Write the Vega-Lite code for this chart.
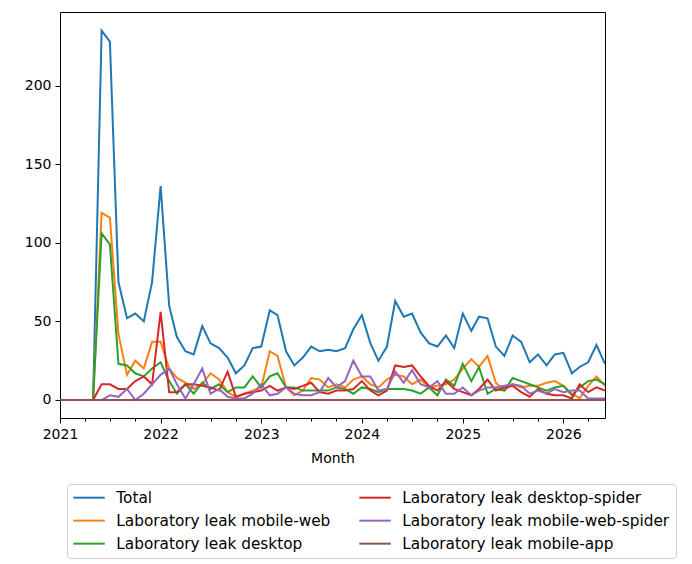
{
  "$schema": "https://vega.github.io/schema/vega-lite/v6.json",
  "description": "Monthly counts, Laboratory leak by platform",
  "width": 545,
  "height": 406,
  "autosize": "none",
  "padding": {"left": 60, "top": 12, "right": 87, "bottom": 146},
  "background": "white",
  "data": {
    "values": [
      {"Month": "2021-01-01", "Total": 0, "Laboratory leak mobile-web": 0, "Laboratory leak desktop": 0, "Laboratory leak desktop-spider": 0, "Laboratory leak mobile-web-spider": 0, "Laboratory leak mobile-app": 0},
      {"Month": "2021-02-01", "Total": 0, "Laboratory leak mobile-web": 0, "Laboratory leak desktop": 0, "Laboratory leak desktop-spider": 0, "Laboratory leak mobile-web-spider": 0, "Laboratory leak mobile-app": 0},
      {"Month": "2021-03-01", "Total": 0, "Laboratory leak mobile-web": 0, "Laboratory leak desktop": 0, "Laboratory leak desktop-spider": 0, "Laboratory leak mobile-web-spider": 0, "Laboratory leak mobile-app": 0},
      {"Month": "2021-04-01", "Total": 0, "Laboratory leak mobile-web": 0, "Laboratory leak desktop": 0, "Laboratory leak desktop-spider": 0, "Laboratory leak mobile-web-spider": 0, "Laboratory leak mobile-app": 0},
      {"Month": "2021-05-01", "Total": 0, "Laboratory leak mobile-web": 0, "Laboratory leak desktop": 0, "Laboratory leak desktop-spider": 0, "Laboratory leak mobile-web-spider": 0, "Laboratory leak mobile-app": 0},
      {"Month": "2021-06-01", "Total": 235, "Laboratory leak mobile-web": 119, "Laboratory leak desktop": 106, "Laboratory leak desktop-spider": 10, "Laboratory leak mobile-web-spider": 0, "Laboratory leak mobile-app": 0},
      {"Month": "2021-07-01", "Total": 228, "Laboratory leak mobile-web": 116, "Laboratory leak desktop": 99, "Laboratory leak desktop-spider": 10, "Laboratory leak mobile-web-spider": 3, "Laboratory leak mobile-app": 0},
      {"Month": "2021-08-01", "Total": 75, "Laboratory leak mobile-web": 42, "Laboratory leak desktop": 23, "Laboratory leak desktop-spider": 7, "Laboratory leak mobile-web-spider": 2, "Laboratory leak mobile-app": 0},
      {"Month": "2021-09-01", "Total": 52, "Laboratory leak mobile-web": 16, "Laboratory leak desktop": 22, "Laboratory leak desktop-spider": 7, "Laboratory leak mobile-web-spider": 7, "Laboratory leak mobile-app": 0},
      {"Month": "2021-10-01", "Total": 55, "Laboratory leak mobile-web": 25, "Laboratory leak desktop": 17, "Laboratory leak desktop-spider": 12, "Laboratory leak mobile-web-spider": 0, "Laboratory leak mobile-app": 0},
      {"Month": "2021-11-01", "Total": 50, "Laboratory leak mobile-web": 20, "Laboratory leak desktop": 15, "Laboratory leak desktop-spider": 15, "Laboratory leak mobile-web-spider": 4, "Laboratory leak mobile-app": 0},
      {"Month": "2021-12-01", "Total": 75, "Laboratory leak mobile-web": 37, "Laboratory leak desktop": 20, "Laboratory leak desktop-spider": 10, "Laboratory leak mobile-web-spider": 10, "Laboratory leak mobile-app": 0},
      {"Month": "2022-01-01", "Total": 136, "Laboratory leak mobile-web": 37, "Laboratory leak desktop": 24, "Laboratory leak desktop-spider": 56, "Laboratory leak mobile-web-spider": 16, "Laboratory leak mobile-app": 0},
      {"Month": "2022-02-01", "Total": 60, "Laboratory leak mobile-web": 20, "Laboratory leak desktop": 12, "Laboratory leak desktop-spider": 5, "Laboratory leak mobile-web-spider": 20, "Laboratory leak mobile-app": 0},
      {"Month": "2022-03-01", "Total": 40, "Laboratory leak mobile-web": 14, "Laboratory leak desktop": 4, "Laboratory leak desktop-spider": 5, "Laboratory leak mobile-web-spider": 10, "Laboratory leak mobile-app": 0},
      {"Month": "2022-04-01", "Total": 31, "Laboratory leak mobile-web": 11, "Laboratory leak desktop": 10, "Laboratory leak desktop-spider": 10, "Laboratory leak mobile-web-spider": 1, "Laboratory leak mobile-app": 0},
      {"Month": "2022-05-01", "Total": 29, "Laboratory leak mobile-web": 7, "Laboratory leak desktop": 4, "Laboratory leak desktop-spider": 10, "Laboratory leak mobile-web-spider": 10, "Laboratory leak mobile-app": 0},
      {"Month": "2022-06-01", "Total": 47, "Laboratory leak mobile-web": 10, "Laboratory leak desktop": 11, "Laboratory leak desktop-spider": 9, "Laboratory leak mobile-web-spider": 20, "Laboratory leak mobile-app": 0},
      {"Month": "2022-07-01", "Total": 36, "Laboratory leak mobile-web": 17, "Laboratory leak desktop": 7, "Laboratory leak desktop-spider": 8, "Laboratory leak mobile-web-spider": 4, "Laboratory leak mobile-app": 0},
      {"Month": "2022-08-01", "Total": 33, "Laboratory leak mobile-web": 13, "Laboratory leak desktop": 10, "Laboratory leak desktop-spider": 6, "Laboratory leak mobile-web-spider": 7, "Laboratory leak mobile-app": 0},
      {"Month": "2022-09-01", "Total": 27, "Laboratory leak mobile-web": 5, "Laboratory leak desktop": 5, "Laboratory leak desktop-spider": 18, "Laboratory leak mobile-web-spider": 2, "Laboratory leak mobile-app": 0},
      {"Month": "2022-10-01", "Total": 17, "Laboratory leak mobile-web": 2, "Laboratory leak desktop": 8, "Laboratory leak desktop-spider": 2, "Laboratory leak mobile-web-spider": 1, "Laboratory leak mobile-app": 0},
      {"Month": "2022-11-01", "Total": 22, "Laboratory leak mobile-web": 4, "Laboratory leak desktop": 8, "Laboratory leak desktop-spider": 4, "Laboratory leak mobile-web-spider": 1, "Laboratory leak mobile-app": 0},
      {"Month": "2022-12-01", "Total": 33, "Laboratory leak mobile-web": 6, "Laboratory leak desktop": 15, "Laboratory leak desktop-spider": 5, "Laboratory leak mobile-web-spider": 4, "Laboratory leak mobile-app": 0},
      {"Month": "2023-01-01", "Total": 34, "Laboratory leak mobile-web": 8, "Laboratory leak desktop": 8, "Laboratory leak desktop-spider": 6, "Laboratory leak mobile-web-spider": 10, "Laboratory leak mobile-app": 0},
      {"Month": "2023-02-01", "Total": 57, "Laboratory leak mobile-web": 31, "Laboratory leak desktop": 15, "Laboratory leak desktop-spider": 9, "Laboratory leak mobile-web-spider": 3, "Laboratory leak mobile-app": 0},
      {"Month": "2023-03-01", "Total": 54, "Laboratory leak mobile-web": 28, "Laboratory leak desktop": 17, "Laboratory leak desktop-spider": 6, "Laboratory leak mobile-web-spider": 4, "Laboratory leak mobile-app": 0},
      {"Month": "2023-04-01", "Total": 31, "Laboratory leak mobile-web": 8, "Laboratory leak desktop": 8, "Laboratory leak desktop-spider": 8, "Laboratory leak mobile-web-spider": 8, "Laboratory leak mobile-app": 0},
      {"Month": "2023-05-01", "Total": 22, "Laboratory leak mobile-web": 3, "Laboratory leak desktop": 8, "Laboratory leak desktop-spider": 7, "Laboratory leak mobile-web-spider": 4, "Laboratory leak mobile-app": 0},
      {"Month": "2023-06-01", "Total": 27, "Laboratory leak mobile-web": 6, "Laboratory leak desktop": 6, "Laboratory leak desktop-spider": 9, "Laboratory leak mobile-web-spider": 3, "Laboratory leak mobile-app": 0},
      {"Month": "2023-07-01", "Total": 34, "Laboratory leak mobile-web": 14, "Laboratory leak desktop": 6, "Laboratory leak desktop-spider": 11, "Laboratory leak mobile-web-spider": 3, "Laboratory leak mobile-app": 0},
      {"Month": "2023-08-01", "Total": 31, "Laboratory leak mobile-web": 13, "Laboratory leak desktop": 6, "Laboratory leak desktop-spider": 5, "Laboratory leak mobile-web-spider": 5, "Laboratory leak mobile-app": 0},
      {"Month": "2023-09-01", "Total": 32, "Laboratory leak mobile-web": 8, "Laboratory leak desktop": 6, "Laboratory leak desktop-spider": 4, "Laboratory leak mobile-web-spider": 14, "Laboratory leak mobile-app": 0},
      {"Month": "2023-10-01", "Total": 31, "Laboratory leak mobile-web": 10, "Laboratory leak desktop": 8, "Laboratory leak desktop-spider": 6, "Laboratory leak mobile-web-spider": 8, "Laboratory leak mobile-app": 0},
      {"Month": "2023-11-01", "Total": 33, "Laboratory leak mobile-web": 8, "Laboratory leak desktop": 7, "Laboratory leak desktop-spider": 6, "Laboratory leak mobile-web-spider": 12, "Laboratory leak mobile-app": 0},
      {"Month": "2023-12-01", "Total": 45, "Laboratory leak mobile-web": 13, "Laboratory leak desktop": 4, "Laboratory leak desktop-spider": 7, "Laboratory leak mobile-web-spider": 25, "Laboratory leak mobile-app": 0},
      {"Month": "2024-01-01", "Total": 54, "Laboratory leak mobile-web": 15, "Laboratory leak desktop": 8, "Laboratory leak desktop-spider": 12, "Laboratory leak mobile-web-spider": 15, "Laboratory leak mobile-app": 0},
      {"Month": "2024-02-01", "Total": 36, "Laboratory leak mobile-web": 10, "Laboratory leak desktop": 7, "Laboratory leak desktop-spider": 6, "Laboratory leak mobile-web-spider": 15, "Laboratory leak mobile-app": 0},
      {"Month": "2024-03-01", "Total": 25, "Laboratory leak mobile-web": 8, "Laboratory leak desktop": 5, "Laboratory leak desktop-spider": 3, "Laboratory leak mobile-web-spider": 6, "Laboratory leak mobile-app": 0},
      {"Month": "2024-04-01", "Total": 34, "Laboratory leak mobile-web": 13, "Laboratory leak desktop": 7, "Laboratory leak desktop-spider": 6, "Laboratory leak mobile-web-spider": 7, "Laboratory leak mobile-app": 0},
      {"Month": "2024-05-01", "Total": 63, "Laboratory leak mobile-web": 16, "Laboratory leak desktop": 7, "Laboratory leak desktop-spider": 22, "Laboratory leak mobile-web-spider": 18, "Laboratory leak mobile-app": 0},
      {"Month": "2024-06-01", "Total": 53, "Laboratory leak mobile-web": 15, "Laboratory leak desktop": 7, "Laboratory leak desktop-spider": 21, "Laboratory leak mobile-web-spider": 11, "Laboratory leak mobile-app": 0},
      {"Month": "2024-07-01", "Total": 55, "Laboratory leak mobile-web": 10, "Laboratory leak desktop": 6, "Laboratory leak desktop-spider": 22, "Laboratory leak mobile-web-spider": 19, "Laboratory leak mobile-app": 0},
      {"Month": "2024-08-01", "Total": 43, "Laboratory leak mobile-web": 13, "Laboratory leak desktop": 4, "Laboratory leak desktop-spider": 15, "Laboratory leak mobile-web-spider": 10, "Laboratory leak mobile-app": 0},
      {"Month": "2024-09-01", "Total": 36, "Laboratory leak mobile-web": 8, "Laboratory leak desktop": 8, "Laboratory leak desktop-spider": 9, "Laboratory leak mobile-web-spider": 8, "Laboratory leak mobile-app": 0},
      {"Month": "2024-10-01", "Total": 34, "Laboratory leak mobile-web": 9, "Laboratory leak desktop": 3, "Laboratory leak desktop-spider": 6, "Laboratory leak mobile-web-spider": 12, "Laboratory leak mobile-app": 0},
      {"Month": "2024-11-01", "Total": 41, "Laboratory leak mobile-web": 10, "Laboratory leak desktop": 13, "Laboratory leak desktop-spider": 12, "Laboratory leak mobile-web-spider": 4, "Laboratory leak mobile-app": 0},
      {"Month": "2024-12-01", "Total": 33, "Laboratory leak mobile-web": 13, "Laboratory leak desktop": 9, "Laboratory leak desktop-spider": 7, "Laboratory leak mobile-web-spider": 4, "Laboratory leak mobile-app": 0},
      {"Month": "2025-01-01", "Total": 55, "Laboratory leak mobile-web": 20, "Laboratory leak desktop": 23, "Laboratory leak desktop-spider": 5, "Laboratory leak mobile-web-spider": 8, "Laboratory leak mobile-app": 0},
      {"Month": "2025-02-01", "Total": 44, "Laboratory leak mobile-web": 26, "Laboratory leak desktop": 12, "Laboratory leak desktop-spider": 3, "Laboratory leak mobile-web-spider": 3, "Laboratory leak mobile-app": 0},
      {"Month": "2025-03-01", "Total": 53, "Laboratory leak mobile-web": 21, "Laboratory leak desktop": 21, "Laboratory leak desktop-spider": 7, "Laboratory leak mobile-web-spider": 6, "Laboratory leak mobile-app": 0},
      {"Month": "2025-04-01", "Total": 52, "Laboratory leak mobile-web": 28, "Laboratory leak desktop": 4, "Laboratory leak desktop-spider": 13, "Laboratory leak mobile-web-spider": 8, "Laboratory leak mobile-app": 0},
      {"Month": "2025-05-01", "Total": 34, "Laboratory leak mobile-web": 11, "Laboratory leak desktop": 7, "Laboratory leak desktop-spider": 6, "Laboratory leak mobile-web-spider": 8, "Laboratory leak mobile-app": 0},
      {"Month": "2025-06-01", "Total": 28, "Laboratory leak mobile-web": 6, "Laboratory leak desktop": 6, "Laboratory leak desktop-spider": 8, "Laboratory leak mobile-web-spider": 9, "Laboratory leak mobile-app": 0},
      {"Month": "2025-07-01", "Total": 41, "Laboratory leak mobile-web": 10, "Laboratory leak desktop": 14, "Laboratory leak desktop-spider": 9, "Laboratory leak mobile-web-spider": 10, "Laboratory leak mobile-app": 0},
      {"Month": "2025-08-01", "Total": 37, "Laboratory leak mobile-web": 8, "Laboratory leak desktop": 12, "Laboratory leak desktop-spider": 5, "Laboratory leak mobile-web-spider": 9, "Laboratory leak mobile-app": 0},
      {"Month": "2025-09-01", "Total": 24, "Laboratory leak mobile-web": 9, "Laboratory leak desktop": 10, "Laboratory leak desktop-spider": 2, "Laboratory leak mobile-web-spider": 4, "Laboratory leak mobile-app": 0},
      {"Month": "2025-10-01", "Total": 29, "Laboratory leak mobile-web": 9, "Laboratory leak desktop": 8, "Laboratory leak desktop-spider": 7, "Laboratory leak mobile-web-spider": 6, "Laboratory leak mobile-app": 0},
      {"Month": "2025-11-01", "Total": 22, "Laboratory leak mobile-web": 11, "Laboratory leak desktop": 6, "Laboratory leak desktop-spider": 4, "Laboratory leak mobile-web-spider": 4, "Laboratory leak mobile-app": 0},
      {"Month": "2025-12-01", "Total": 29, "Laboratory leak mobile-web": 12, "Laboratory leak desktop": 8, "Laboratory leak desktop-spider": 3, "Laboratory leak mobile-web-spider": 7, "Laboratory leak mobile-app": 0},
      {"Month": "2026-01-01", "Total": 30, "Laboratory leak mobile-web": 9, "Laboratory leak desktop": 9, "Laboratory leak desktop-spider": 3, "Laboratory leak mobile-web-spider": 5, "Laboratory leak mobile-app": 0},
      {"Month": "2026-02-01", "Total": 17, "Laboratory leak mobile-web": 4, "Laboratory leak desktop": 3, "Laboratory leak desktop-spider": 1, "Laboratory leak mobile-web-spider": 6, "Laboratory leak mobile-app": 0},
      {"Month": "2026-03-01", "Total": 21, "Laboratory leak mobile-web": 1, "Laboratory leak desktop": 8, "Laboratory leak desktop-spider": 10, "Laboratory leak mobile-web-spider": 6, "Laboratory leak mobile-app": 0},
      {"Month": "2026-04-01", "Total": 24, "Laboratory leak mobile-web": 9, "Laboratory leak desktop": 12, "Laboratory leak desktop-spider": 5, "Laboratory leak mobile-web-spider": 1, "Laboratory leak mobile-app": 0},
      {"Month": "2026-05-01", "Total": 35, "Laboratory leak mobile-web": 15, "Laboratory leak desktop": 13, "Laboratory leak desktop-spider": 8, "Laboratory leak mobile-web-spider": 1, "Laboratory leak mobile-app": 0},
      {"Month": "2026-06-01", "Total": 23, "Laboratory leak mobile-web": 9, "Laboratory leak desktop": 10, "Laboratory leak desktop-spider": 6, "Laboratory leak mobile-web-spider": 1, "Laboratory leak mobile-app": 0}
    ]
  },
  "transform": [
    {
      "fold": [
        "Total",
        "Laboratory leak mobile-web",
        "Laboratory leak desktop",
        "Laboratory leak desktop-spider",
        "Laboratory leak mobile-web-spider",
        "Laboratory leak mobile-app"
      ],
      "as": ["series", "value"]
    }
  ],
  "mark": {"type": "line", "strokeWidth": 2, "clip": true},
  "encoding": {
    "x": {
      "field": "Month",
      "type": "temporal",
      "title": "Month",
      "scale": {"type": "utc", "nice": false},
      "axis": {
        "tickCount": {"interval": "month", "step": 3},
        "labelExpr": "utcmonth(datum.value) == 0 ? utcFormat(datum.value, '%Y') : ''",
        "tickSize": {"condition": {"test": "utcmonth(datum.value) == 0", "value": 5}, "value": 3},
        "labelFlush": false,
        "labelOverlap": false,
        "labelPadding": 4,
        "titlePadding": 10
      }
    },
    "y": {
      "field": "value",
      "type": "quantitative",
      "title": null,
      "scale": {"domain": [-11.45, 246.8], "nice": false, "zero": false},
      "axis": {"values": [0, 50, 100, 150, 200], "tickSize": 5, "labelPadding": 4}
    },
    "color": {
      "field": "series",
      "type": "nominal",
      "scale": {
        "domain": [
          "Total",
          "Laboratory leak mobile-web",
          "Laboratory leak desktop",
          "Laboratory leak desktop-spider",
          "Laboratory leak mobile-web-spider",
          "Laboratory leak mobile-app"
        ],
        "range": ["#1f77b4", "#ff7f0e", "#2ca02c", "#d62728", "#9467bd", "#8c564b"]
      },
      "legend": {
        "orient": "none",
        "legendX": 7,
        "legendY": 472,
        "columns": 2,
        "title": null,
        "symbolType": "M-1.4,0H4.6",
        "symbolSize": 110,
        "symbolStrokeWidth": 2,
        "labelOffset": 28,
        "labelLimit": 0,
        "labelFontSize": 15.3,
        "rowPadding": 7,
        "columnPadding": 24,
        "padding": 6,
        "strokeColor": "#cccccc",
        "fillColor": "white",
        "cornerRadius": 3
      }
    }
  },
  "config": {
    "font": "DejaVu Sans",
    "view": {"stroke": "#000", "strokeWidth": 1},
    "axis": {
      "grid": false,
      "domain": false,
      "tickColor": "#000",
      "tickWidth": 1,
      "labelColor": "#000",
      "labelFontSize": 14,
      "titleColor": "#000",
      "titleFontSize": 14,
      "titleFontWeight": "normal"
    },
    "legend": {"labelColor": "#000"}
  }
}
